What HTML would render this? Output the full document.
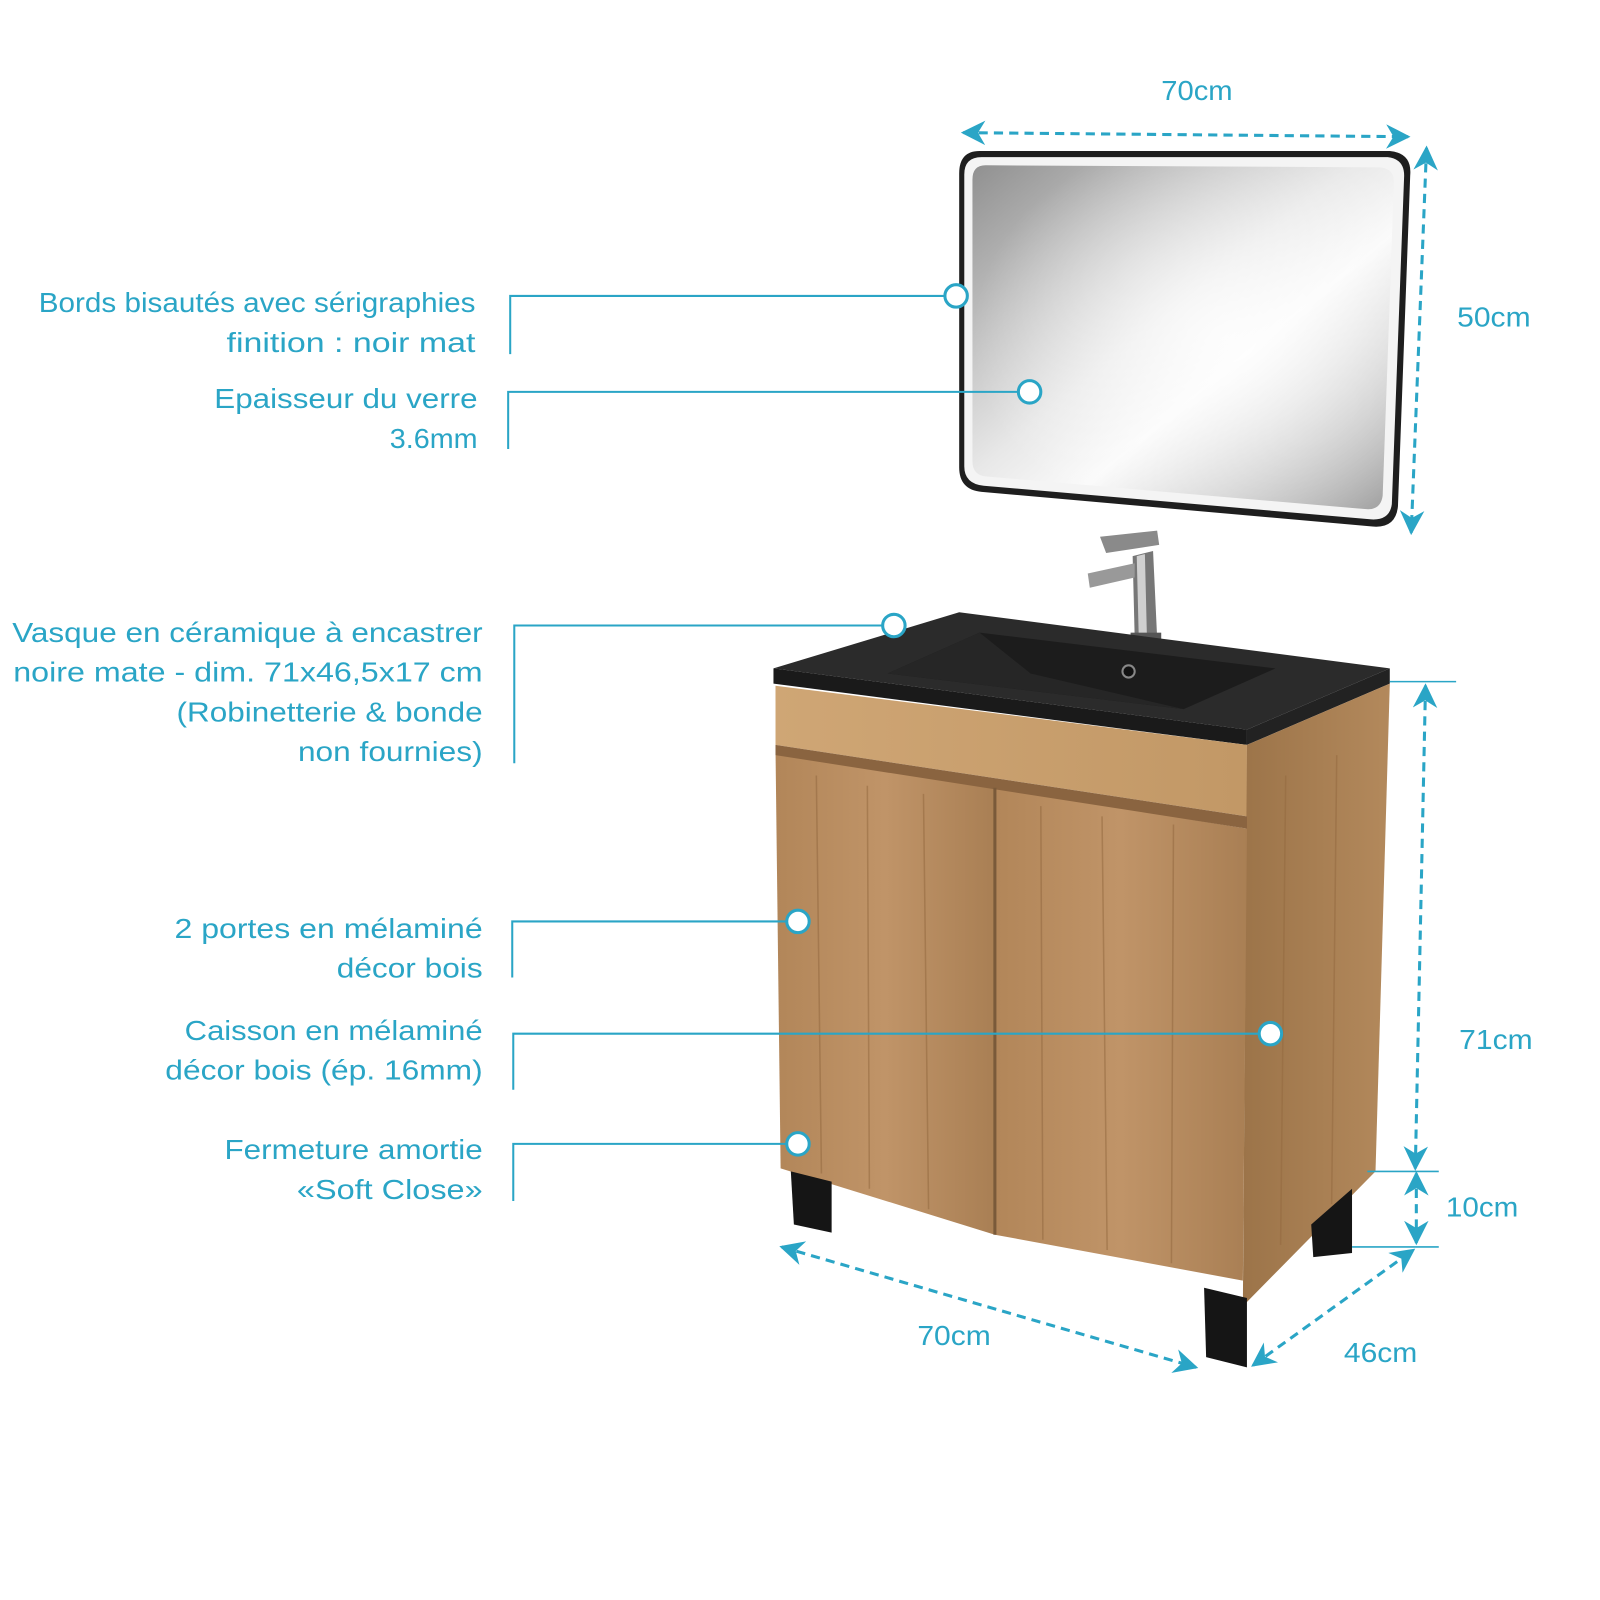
<!DOCTYPE html>
<html><head><meta charset="utf-8">
<style>
html,body{margin:0;padding:0;background:#fff;width:1600px;height:1600px;overflow:hidden}
svg{display:block}
text{font-family:"Liberation Sans",sans-serif;fill:#2aa5c6;font-size:27px}
</style></head><body>
<svg width="1600" height="1600" viewBox="0 0 1568 1568" xmlns="http://www.w3.org/2000/svg">
<defs>
<linearGradient id="mir" x1="0" y1="0" x2="1" y2="1">
<stop offset="0" stop-color="#909090"/><stop offset="0.45" stop-color="#e8e8e8"/><stop offset="0.6" stop-color="#fafafa"/><stop offset="1" stop-color="#a0a0a0"/>
</linearGradient>
<radialGradient id="mir2" cx="0.6" cy="0.5" r="0.6">
<stop offset="0" stop-color="#fff" stop-opacity="0.8"/><stop offset="1" stop-color="#fff" stop-opacity="0"/>
</radialGradient>
<linearGradient id="wood" x1="0" y1="0" x2="1" y2="0">
<stop offset="0" stop-color="#b28659"/><stop offset="0.5" stop-color="#c09468"/><stop offset="1" stop-color="#a97f54"/>
</linearGradient>
<linearGradient id="side" x1="0" y1="0" x2="1" y2="0">
<stop offset="0" stop-color="#9c7449"/><stop offset="1" stop-color="#b3895c"/>
</linearGradient>
<linearGradient id="rail" x1="0" y1="0" x2="1" y2="0">
<stop offset="0" stop-color="#cfa675"/><stop offset="1" stop-color="#c29866"/>
</linearGradient>
<marker id="ah" viewBox="0 0 10 10" refX="9" refY="5" markerWidth="8" markerHeight="8" orient="auto-start-reverse">
<path d="M0,0 L10,5 L0,10 L3,5 Z" fill="#2aa5c6"/>
</marker>
</defs>

<!-- mirror -->
<path d="M960,148 L1362,148 Q1384,150 1382,172 L1370,496 Q1368,518 1345,516 L962,482 Q940,480 940,458 L940,170 Q940,148 960,148 Z" fill="#1e1e1e"/>
<path d="M962,154 L1360,154 Q1377,156 1376,174 L1364,494 Q1362,510 1344,509 L964,476 Q945,474 945,457 L945,171 Q945,154 962,154 Z" fill="#f4f4f4"/>
<path d="M966,162 L1352,164 Q1367,165 1366,180 L1355,486 Q1353,500 1339,499 L967,467 Q953,466 953,452 L953,176 Q953,162 966,162 Z" fill="url(#mir)"/>
<path d="M966,162 L1352,164 Q1367,165 1366,180 L1355,486 Q1353,500 1339,499 L967,467 Q953,466 953,452 L953,176 Q953,162 966,162 Z" fill="url(#mir2)"/>

<!-- faucet -->
<path d="M1110,545 L1130,540 L1134,625 L1112,625 Z" fill="#777"/>
<path d="M1114,545 L1122,543 L1124,625 L1116,625 Z" fill="#d0d0d0"/>
<path d="M1078,526 L1134,520 L1136,534 L1084,542 Z" fill="#8a8a8a"/>
<path d="M1066,562 L1112,552 L1112,566 L1068,576 Z" fill="#999"/>
<rect x="1108" y="620" width="30" height="12" fill="#555"/>

<!-- countertop -->
<path d="M758,655 L940,600 L1362,655 L1222,715 Z" fill="#2b2b2b"/>
<path d="M758,655 L1222,715 L1222,730 L758,670 Z" fill="#1a1a1a"/>
<path d="M1222,715 L1362,655 L1362,670 L1222,730 Z" fill="#222"/>
<path d="M870,660 L960,620 L1250,655 L1160,695 Z" fill="#1c1c1c"/>
<path d="M870,660 L960,620 L1010,660 L1160,695 Z" fill="#262626"/>
<circle cx="1106" cy="658" r="6" fill="#111" stroke="#888" stroke-width="2"/>

<!-- cabinet -->
<path d="M760,672 L1222,730 L1222,800 L760,730 Z" fill="url(#rail)"/>
<path d="M1222,730 L1362,670 L1348,1148 L1218,1280 Z" fill="url(#side)"/>
<path d="M760,735 L975,772 L975,1210 L765,1145 Z" fill="url(#wood)"/>
<path d="M975,772 L1222,812 L1218,1255 L975,1210 Z" fill="url(#wood)"/>
<path d="M760,730 L1222,800 L1222,812 L760,740 Z" fill="#8a6440"/>
<line x1="975" y1="772" x2="975" y2="1210" stroke="#7a5a3a" stroke-width="3"/>
<g stroke="#93693f" stroke-width="1.5" opacity="0.55" fill="none">
<path d="M800,760 L805,1150 M850,770 L852,1165 M905,778 L910,1185 M1020,790 L1022,1215 M1080,800 L1085,1225 M1150,808 L1148,1238 M1260,760 L1255,1220 M1310,740 L1305,1180"/>
</g>

<!-- legs -->
<path d="M775,1148 L815,1158 L815,1208 L778,1200 Z" fill="#151515"/>
<path d="M1180,1262 L1222,1272 L1222,1340 L1182,1330 Z" fill="#151515"/>
<path d="M1285,1200 L1325,1165 L1325,1228 L1287,1232 Z" fill="#151515"/>

<!-- dimension lines -->
<g stroke="#2aa5c6" stroke-width="3" stroke-dasharray="9,6" fill="none">
<line x1="944" y1="130" x2="1380" y2="134" marker-start="url(#ah)" marker-end="url(#ah)"/>
<line x1="1398" y1="145" x2="1383" y2="522" marker-start="url(#ah)" marker-end="url(#ah)"/>
<line x1="1397" y1="672" x2="1387" y2="1145" marker-start="url(#ah)" marker-end="url(#ah)"/>
<line x1="1388" y1="1150" x2="1388" y2="1218" marker-start="url(#ah)" marker-end="url(#ah)"/>
<line x1="766" y1="1222" x2="1172" y2="1340" marker-start="url(#ah)" marker-end="url(#ah)"/>
<line x1="1228" y1="1338" x2="1385" y2="1225" marker-start="url(#ah)" marker-end="url(#ah)"/>
</g>
<g stroke="#2aa5c6" stroke-width="1.5">
<line x1="1362" y1="668" x2="1427" y2="668"/>
<line x1="1340" y1="1148" x2="1410" y2="1148"/>
<line x1="1325" y1="1222" x2="1410" y2="1222"/>
</g>

<!-- callout leaders -->
<g stroke="#2aa5c6" stroke-width="2" fill="none">
<path d="M500,347 L500,290 L926,290"/>
<path d="M498,440 L498,384 L998,384"/>
<path d="M504,748 L504,613 L864,613"/>
<path d="M502,958 L502,903 L770,903"/>
<path d="M503,1068 L503,1013 L1234,1013"/>
<path d="M503,1177 L503,1121 L770,1121"/>
</g>
<g stroke="#2aa5c6" stroke-width="3" fill="#fff">
<circle cx="937" cy="290" r="11"/>
<circle cx="1009" cy="384" r="11"/>
<circle cx="876" cy="613" r="11"/>
<circle cx="782" cy="903" r="11"/>
<circle cx="1245" cy="1013" r="11"/>
<circle cx="782" cy="1121" r="11"/>
</g>

<!-- labels -->
<text x="1138" y="98" textLength="70" lengthAdjust="spacingAndGlyphs">70cm</text>
<text x="1428" y="320" textLength="72" lengthAdjust="spacingAndGlyphs">50cm</text>
<text x="1430" y="1028" textLength="72" lengthAdjust="spacingAndGlyphs">71cm</text>
<text x="1417" y="1192" textLength="71" lengthAdjust="spacingAndGlyphs">10cm</text>
<text x="899" y="1318" textLength="72" lengthAdjust="spacingAndGlyphs">70cm</text>
<text x="1317" y="1335" textLength="72" lengthAdjust="spacingAndGlyphs">46cm</text>

<g text-anchor="end">
<text x="466" y="306" textLength="428" lengthAdjust="spacingAndGlyphs">Bords bisautés avec sérigraphies</text>
<text x="466" y="345" textLength="244" lengthAdjust="spacingAndGlyphs">finition : noir mat</text>
<text x="468" y="400" textLength="258" lengthAdjust="spacingAndGlyphs">Epaisseur du verre</text>
<text x="468" y="439" textLength="86" lengthAdjust="spacingAndGlyphs">3.6mm</text>
<text x="473" y="629" textLength="461" lengthAdjust="spacingAndGlyphs">Vasque en céramique à encastrer</text>
<text x="473" y="668" textLength="460" lengthAdjust="spacingAndGlyphs">noire mate - dim. 71x46,5x17 cm</text>
<text x="473" y="707" textLength="300" lengthAdjust="spacingAndGlyphs">(Robinetterie &amp; bonde</text>
<text x="473" y="746" textLength="181" lengthAdjust="spacingAndGlyphs">non fournies)</text>
<text x="473" y="919" textLength="302" lengthAdjust="spacingAndGlyphs">2 portes en mélaminé</text>
<text x="473" y="958" textLength="143" lengthAdjust="spacingAndGlyphs">décor bois</text>
<text x="473" y="1019" textLength="292" lengthAdjust="spacingAndGlyphs">Caisson en mélaminé</text>
<text x="473" y="1058" textLength="311" lengthAdjust="spacingAndGlyphs">décor bois (ép. 16mm)</text>
<text x="473" y="1136" textLength="253" lengthAdjust="spacingAndGlyphs">Fermeture amortie</text>
<text x="473" y="1175" textLength="182" lengthAdjust="spacingAndGlyphs">«Soft Close»</text>
</g>
</svg>
</body></html>
